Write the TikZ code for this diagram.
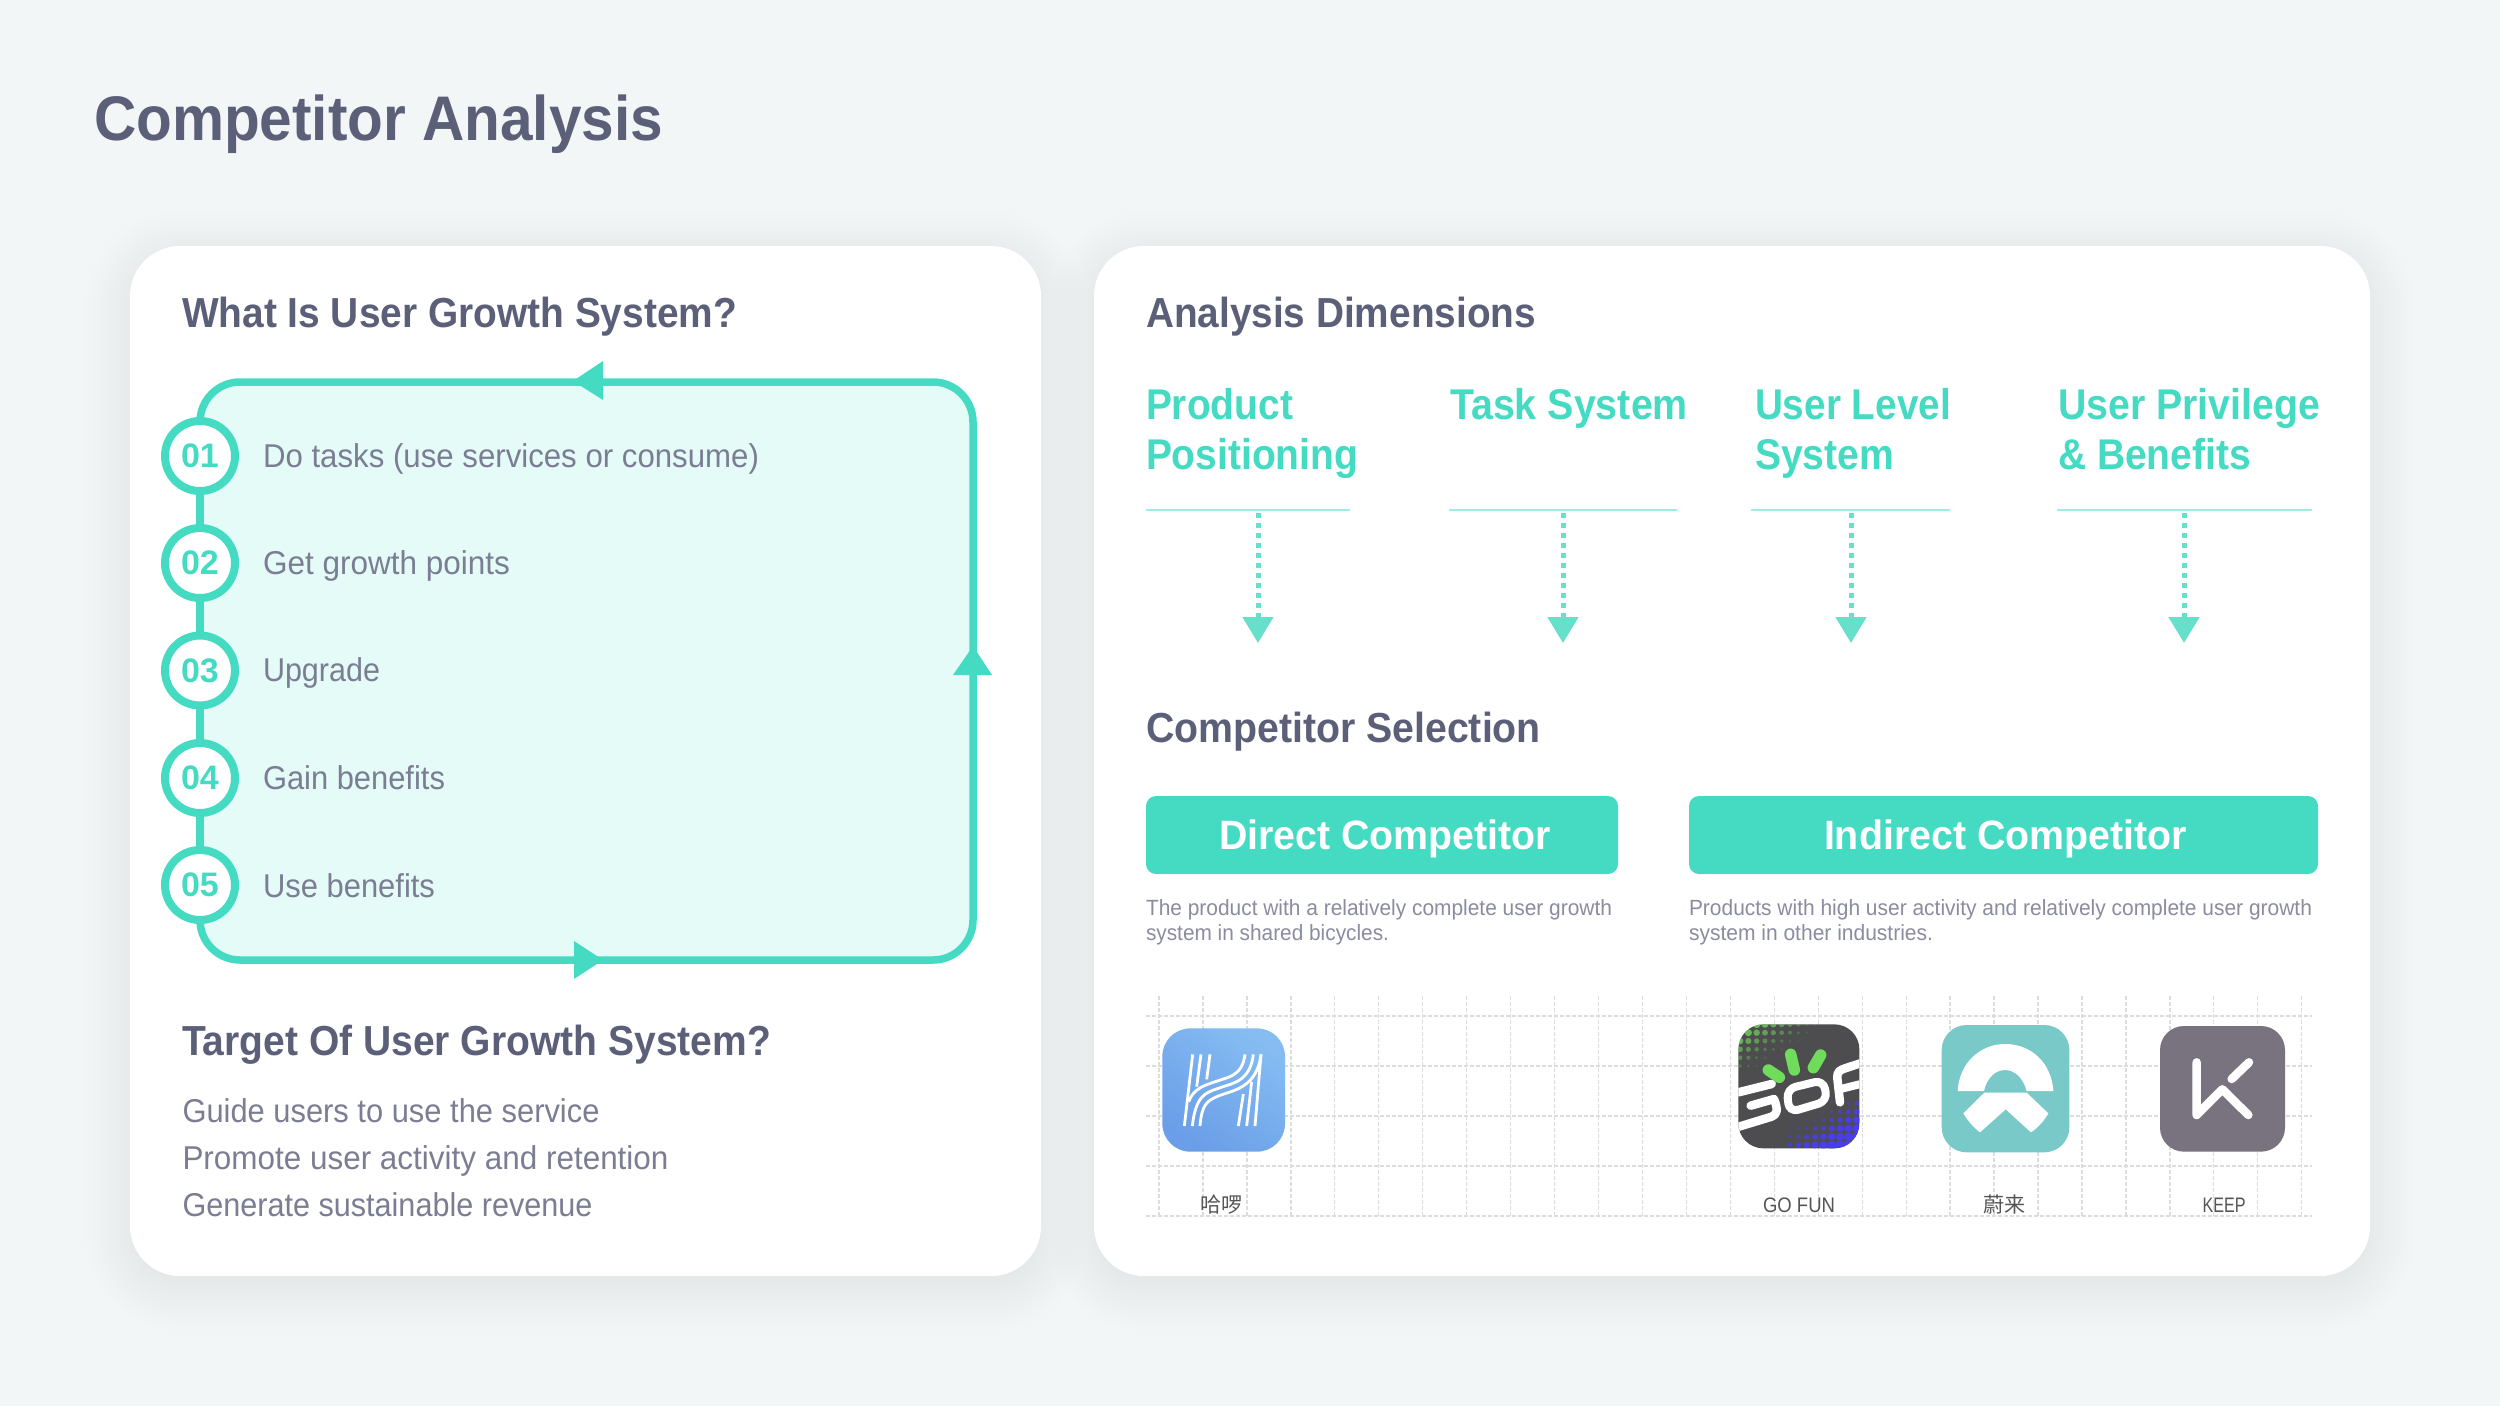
\documentclass[tikz,border=0pt]{standalone}
\usepackage{fontspec}
\usepackage{graphicx}
\usetikzlibrary{arrows.meta}
\setmainfont{Liberation Sans}
\newfontfamily\cjkfont{Noto Sans CJK SC}
\definecolor{bgc}{HTML}{F2F6F7}
\definecolor{teal}{HTML}{45DBC3}
\definecolor{tealsoft}{HTML}{66DFCB}
\definecolor{tealrule}{HTML}{9BEEE0}
\definecolor{mint}{HTML}{E5FBF8}
\definecolor{headc}{HTML}{5B5F78}
\definecolor{bodyc}{HTML}{7B7E93}
\definecolor{descc}{HTML}{8A8C9F}
\definecolor{gridc}{HTML}{DCDCDC}
\definecolor{helloA}{HTML}{85BDF2}
\definecolor{helloB}{HTML}{6A9EE8}
\definecolor{gofunbg}{HTML}{4D4C4E}
\definecolor{gofung}{HTML}{70DC5C}
\definecolor{gofunb}{HTML}{4A3DF0}
\definecolor{nioc}{HTML}{7AC9C9}
\definecolor{keepc}{HTML}{78737E}
\definecolor{logoc}{HTML}{555555}
\newcommand\fitw[2]{\resizebox{#1pt}{\height}{#2}}
\newcommand\fsz[1]{\fontsize{#1pt}{#1pt}\selectfont}
\tikzset{
  txt/.style={anchor=base west,inner sep=0pt,outer sep=0pt},
  titletxt/.style={txt,text=headc,font=\fsz{63}\bfseries},
  headtxt/.style={txt,text=headc,font=\fsz{42}\bfseries},
  dimtxt/.style={txt,text=teal,font=\fsz{43}\bfseries},
  bodytxt/.style={txt,text=bodyc,font=\fsz{33}},
  desctxt/.style={txt,text=descc,font=\fsz{22}},
  logotxt/.style={anchor=base,inner sep=0pt,outer sep=0pt,text=logoc,font=\fsz{21}},
  btntxt/.style={anchor=base,inner sep=0pt,outer sep=0pt,text=white,font=\fsz{41}\bfseries},
  card/.style={fill=white,rounded corners=50pt},
  stepnum/.style={circle,draw=teal,line width=8pt,fill=white,minimum size=70pt,inner sep=0pt,outer sep=0pt,text=teal,font=\fsz{34}\bfseries},
  loopline/.style={draw=teal,line width=7.5pt},
  rulel/.style={draw=tealrule,line width=2.5pt},
  dotarrow/.style={draw=tealsoft,line width=5pt,dash pattern=on 5pt off 5pt,-{Triangle[length=26pt,width=30pt,fill=tealsoft]}},
  gridl/.style={draw=gridc,line width=1.3pt,dash pattern=on 4pt off 2pt},
  iconzoom/.style={x=.33333pt,y=-.33333pt},
  hellol/.style={draw=white,line width=2.8pt,line cap=butt},
}
\begin{document}
\begin{tikzpicture}[x=1pt,y=-1pt]
\useasboundingbox (0,0) rectangle (2500,1406);
\fill[bgc] (0,0) rectangle (2500,1406);
% card shadows
\foreach \s in {-4,0,...,44}{
  \fill[black,opacity=.0025,rounded corners=50pt+\s pt] (130-\s,256-\s) rectangle (1041+\s,1286+\s);
  \fill[black,opacity=.0025,rounded corners=50pt+\s pt] (1094-\s,256-\s) rectangle (2370+\s,1286+\s);
}
\fill[card] (130,246) rectangle (1041,1276);
\fill[card] (1094,246) rectangle (2370,1276);
\node[titletxt] (title) at (94,140) {\fitw{569}{Competitor Analysis}};
% left card
\node[headtxt] (h1) at (182,327) {\fitw{555}{What Is User Growth System?}};
\fill[mint,rounded corners=40pt] (200,382) rectangle (973,960);
\node[stepnum] (c1) at (200,456) {\raisebox{-1pt}{01}};
\node[stepnum] (c2) at (200,563) {\raisebox{-1pt}{02}};
\node[stepnum] (c3) at (200,670.5) {\raisebox{-1pt}{03}};
\node[stepnum] (c4) at (200,778) {\raisebox{-1pt}{04}};
\node[stepnum] (c5) at (200,885) {\raisebox{-1pt}{05}};
\draw[loopline] (c1) -- (c2);
\draw[loopline] (c2) -- (c3);
\draw[loopline] (c3) -- (c4);
\draw[loopline] (c4) -- (c5);
\draw[loopline,rounded corners=40pt] (c5.south) -- (200,960) -- (973,960) -- (973,382) -- (200,382) -- (c1.north);
\fill[teal] (573,381) -- (603,361) -- (603,400) -- cycle;
\fill[teal] (603,960) -- (574,941) -- (574,979) -- cycle;
\fill[teal] (973,646) -- (992,675) -- (953,675) -- cycle;
\node[bodytxt] (s1) at (263,467) {\fitw{496}{Do tasks (use services or consume)}};
\node[bodytxt] (s2) at (263,574.5) {\fitw{247}{Get growth points}};
\node[bodytxt] (s3) at (263,681.5) {\fitw{117}{Upgrade}};
\node[bodytxt] (s4) at (263,789.5) {\fitw{182}{Gain benefits}};
\node[bodytxt] (s5) at (263,897) {\fitw{172}{Use benefits}};
\node[headtxt] (h2) at (182,1055) {\fitw{589}{Target Of User Growth System?}};
\node[bodytxt] (t1) at (182.5,1122) {\fitw{417}{Guide users to use the service}};
\node[bodytxt] (t2) at (182.5,1169) {\fitw{486}{Promote user activity and retention}};
\node[bodytxt] (t3) at (182.5,1216) {\fitw{410}{Generate sustainable revenue}};
% right card
\node[headtxt] (h3) at (1146,327) {\fitw{390}{Analysis Dimensions}};
\node[dimtxt] (d1a) at (1146,419.5) {\fitw{147}{Product}};
\node[dimtxt] (d1b) at (1146,469) {\fitw{212}{Positioning}};
\node[dimtxt] (d2a) at (1450,419.5) {\fitw{238}{Task System}};
\node[dimtxt] (d3a) at (1755,419.5) {\fitw{196}{User Level}};
\node[dimtxt] (d3b) at (1755,469) {\fitw{139}{System}};
\node[dimtxt] (d4a) at (2058,419.5) {\fitw{262}{User Privilege}};
\node[dimtxt] (d4b) at (2058,469) {\fitw{193}{\& Benefits}};
\draw[rulel] (1146,510) -- (1350,510);
\draw[rulel] (1449,510) -- (1677,510);
\draw[rulel] (1751,510) -- (1950,510);
\draw[rulel] (2057,510) -- (2312,510);
\foreach \i/\x in {1/1258,2/1563,3/1851,4/2184}{
  \coordinate (as\i) at (\x,513);
  \coordinate (ae\i) at (\x,643);
  \draw[dotarrow] (as\i) -- (ae\i);
}
\node[headtxt] (h4) at (1146,742) {\fitw{395}{Competitor Selection}};
\fill[teal,rounded corners=10pt] (1146,796) rectangle (1618,874);
\fill[teal,rounded corners=10pt] (1689,796) rectangle (2318,874);
\node[btntxt] (b1) at (1385,849) {\fitw{332}{Direct Competitor}};
\node[btntxt] (b2) at (2005.5,849) {\fitw{363}{Indirect Competitor}};
\node[desctxt] (e1) at (1146,915) {\fitw{466}{The product with a relatively complete user growth}};
\node[desctxt] (e2) at (1146,940) {\fitw{243}{system in shared bicycles.}};
\node[desctxt] (e3) at (1689,915) {\fitw{623}{Products with high user activity and relatively complete user growth}};
\node[desctxt] (e4) at (1689,940) {\fitw{244}{system in other industries.}};
% grid
\foreach \k in {0,...,26}{ \draw[gridl] ({1159+43.95*\k},996) -- ({1159+43.95*\k},1216); }
\foreach \y in {1016,1066,1116,1166,1216}{ \draw[gridl] (1146,\y) -- (2312,\y); }
% Hello icon
\begin{scope}[shift={(1155,1020)},iconzoom]
  \shade[left color=helloA,right color=helloB,shading angle=-35,rounded corners=28pt] (22,25) rectangle (390,395);
  \draw[hellol] (113,103) -- (88,318);
  \draw[hellol] (138,103) -- (125,200);
  \draw[hellol] (165,103) -- (155,178);
  \draw[hellol] (270,103) .. controls (262,170) and (215,172) .. (190,182) .. controls (150,195) and (115,205) .. (101,245);
  \draw[hellol] (295,103) .. controls (285,190) and (225,190) .. (190,205) .. controls (150,218) and (122,228) .. (112,318);
  \draw[hellol] (318,103) .. controls (305,205) and (235,210) .. (190,228) .. controls (155,242) and (140,255) .. (135,318);
  \draw[hellol] (318,103) -- (300,318);
  \draw[hellol] (290,185) -- (275,318);
  \draw[hellol] (265,222) -- (250,318);
\end{scope}
% GoFun icon
\begin{scope}[shift={(1730,1015)},iconzoom]
  \fill[gofunbg,rounded corners=25pt] (25,28) rectangle (388,400);
  \begin{scope}
    \clip[rounded corners=25pt] (25,28) rectangle (388,400);
    \foreach \ix in {0,...,9}{ \foreach \iy in {0,...,5}{
      \pgfmathsetmacro{\rr}{max(0,13-0.9*\ix-1.5*\iy)}
      \pgfmathsetmacro{\oo}{max(0,1-0.09*\ix-0.14*\iy)}
      \fill[gofung,opacity=\oo] ({30+25*\ix},{28+25*\iy}) circle[radius=\rr pt*0.3333];
    }}
    \foreach \ix in {0,...,8}{ \foreach \iy in {0,...,5}{
      \pgfmathsetmacro{\rr}{max(0,1.2*\ix+2.0*\iy-3)}
      \pgfmathsetmacro{\oo}{min(1,0.1*\ix+0.14*\iy)}
      \fill[gofunb,opacity=\oo] ({180+25*\ix},{265+25*\iy}) circle[radius=\rr pt*0.3333];
    }}
    \draw[white,line width=8.5pt,line cap=round,line join=round] (125,207) -- (25,232);
    \draw[white,line width=8.5pt,line cap=round,line join=round] (10,340) -- (125,305) .. controls (142,298) and (145,285) .. (132,252) -- (62,272);
    \draw[white,line width=8pt,line cap=round,line join=round,rounded corners=9pt] (170,222) -- (280,195) -- (292,258) -- (178,292) -- cycle;
    \draw[white,line width=8.5pt,line cap=round,line join=round] (330,262) -- (322,190) .. controls (320,170) and (330,165) .. (345,160) -- (400,142);
    \draw[white,line width=8pt] (332,222) -- (400,205);
  \end{scope}
  \draw[gofung,line width=11.5pt,line cap=round] (115,165) -- (148,187);
  \draw[gofung,line width=11.5pt,line cap=round] (182,118) -- (193,165);
  \draw[gofung,line width=11.5pt,line cap=round] (272,120) -- (250,158);
\end{scope}
% NIO icon
\begin{scope}[shift={(1935,1020)},iconzoom]
  \fill[nioc,rounded corners=25pt] (20,15) rectangle (403,397);
  \fill[white] (68,213) .. controls (72,130) and (135,72) .. (210,72) .. controls (290,72) and (350,130) .. (355,213) -- (275,213) .. controls (265,175) and (240,150) .. (210,150) .. controls (180,150) and (155,175) .. (147,213) -- cycle;
  \fill[white] (85,280) -- (148,218) -- (275,218) -- (340,280) .. controls (325,305) and (310,322) .. (288,337) -- (212,268) -- (135,337) .. controls (115,322) and (98,302) .. (85,280) -- cycle;
\end{scope}
% Keep icon
\begin{scope}[shift={(1935,1020)},iconzoom]
  \fill[keepc,rounded corners=24pt] (675,18) rectangle (1050,395);
  \draw[white,line width=8.5pt,line cap=round,line join=round] (785,127) -- (785,285) -- (862,208) -- (940,285);
  \draw[white,line width=8.5pt,line cap=round] (942,127) -- (890,177);
\end{scope}
% logo labels
\node[logotxt] (l1) at (1221.5,1212) {\cjkfont 哈啰};
\node[logotxt] (l2) at (1799,1212) {\fitw{72}{GO FUN}};
\node[logotxt] (l3) at (2004,1212) {\cjkfont 蔚来};
\node[logotxt] (l4) at (2224,1212) {\fitw{43}{KEEP}};
\end{tikzpicture}
\end{document}
